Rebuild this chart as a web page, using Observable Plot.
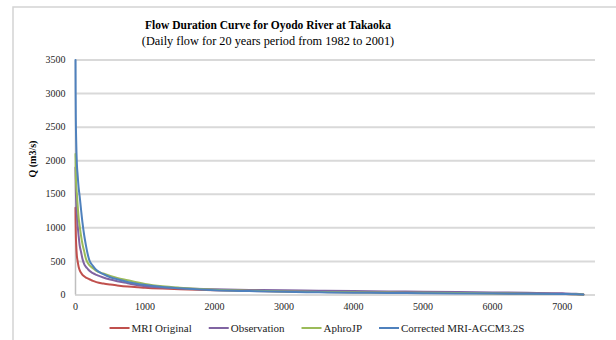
<!DOCTYPE html>
<html>
<head>
<meta charset="utf-8">
<script src="https://cdn.jsdelivr.net/npm/d3@7"></script>
<script src="https://cdn.jsdelivr.net/npm/@observablehq/plot@0.6"></script>
<style>
  html, body { margin: 0; padding: 0; background: #fff; }
  svg { display: block; }
  svg text, svg g { font-family: "Liberation Serif", "Times New Roman", serif !important; }
</style>
</head>
<body>
<script>
// Exceedance time (days) at which each series is sampled
const days = [0, 2, 5, 10, 20, 30, 45, 60, 80, 100, 125, 150, 175, 200, 250, 300, 400, 500, 600, 750, 900,
  1000, 1250, 1500, 2000, 2500, 3000, 3500, 4000, 4500, 5000, 5500, 6000, 6500, 7000, 7200, 7305];

// Daily discharge Q (m3/s), sorted from highest to lowest
const mriOriginal = [1300, 1100, 900, 750, 580, 510, 420, 370, 330, 300, 280, 260, 247, 235, 210, 192, 170, 155, 143, 127, 115,
  108, 95, 85, 70, 60, 53, 47, 42, 38, 34, 30, 26, 22, 17, 12, 6];
const observation = [1900, 1750, 1550, 1400, 1200, 1050, 880, 740, 640, 540, 460, 420, 390, 360, 325, 300, 260, 230, 205, 175, 145,
  130, 112, 100, 85, 76, 69, 63, 58, 53, 49, 44, 39, 33, 25, 18, 9];
const aphroJP = [2100, 2000, 1800, 1650, 1500, 1350, 1150, 1030, 880, 760, 650, 540, 480, 445, 400, 360, 320, 285, 255, 220, 185,
  165, 130, 108, 80, 65, 53, 46, 40, 36, 32, 28, 24, 20, 15, 11, 6];
const correctedMRI = [3500, 3000, 2600, 2300, 1950, 1800, 1600, 1470, 1270, 1080, 890, 740, 610, 515, 435, 372, 310, 265, 235, 195, 165,
  150, 120, 100, 72, 58, 47, 40, 35, 31, 27, 24, 21, 18, 14, 11, 6];

const seriesNames = ["MRI Original", "Observation", "AphroJP", "Corrected MRI-AGCM3.2S"];
const seriesValues = [mriOriginal, observation, aphroJP, correctedMRI];
const seriesColors = ["#C0504D", "#8064A2", "#9BBB59", "#4F81BD"];

const xTicks = [0, 1000, 2000, 3000, 4000, 5000, 6000, 7000];
const yTicks = [0, 500, 1000, 1500, 2000, 2500, 3000, 3500];

const titleText = "Flow Duration Curve for Oyodo River at Takaoka";
const subtitleText = "(Daily flow for 20 years period from 1982 to 2001)";
const yLabel = "Q (m3/s)";

const rows = seriesNames.flatMap((name, i) =>
  days.map((d, j) => ({series: name, day: d, q: seriesValues[i][j]}))
);

const serif = "Liberation Serif, Times New Roman, serif";
const plain = d3.format("d");

const svg = Plot.plot({
  width: 616,
  height: 340,
  marginLeft: 75,
  marginRight: 21,
  marginTop: 59.5,
  marginBottom: 45.5,
  style: {fontSize: "10px", color: "#262626", background: "#fff", fontFamily: serif},
  x: {domain: [0, 7480]},
  y: {domain: [0, 3500]},
  color: {domain: seriesNames, range: seriesColors},
  marks: [
    Plot.gridY(yTicks, {stroke: "#d9d9d9", strokeWidth: 2, strokeOpacity: 1}),
    Plot.ruleX([0], {stroke: "#bfbfbf", strokeWidth: 1.5}),
    Plot.axisX(xTicks, {tickSize: 0, tickPadding: 8, label: null, fontSize: 10, tickFormat: plain}),
    Plot.axisY(yTicks, {tickSize: 0, tickPadding: 10, label: null, fontSize: 10, tickFormat: plain}),
    Plot.line(rows, {
      x: "day", y: "q", z: "series", stroke: "series",
      strokeWidth: 2, curve: "monotone-x"
    }),
    Plot.text([yLabel], {
      frameAnchor: "left", dx: -43, rotate: -90,
      fontWeight: "bold", fontSize: 10, fill: "#000"
    })
  ]
});

document.body.append(svg);
const root = d3.select(svg);
root.attr("font-family", serif);
root.selectAll("[font-family]").attr("font-family", serif);

// Chart area border
root.insert("rect", ":first-child")
  .attr("x", 13).attr("y", 7)
  .attr("width", 640).attr("height", 360)
  .attr("fill", "none").attr("stroke", "#d4d4d4").attr("stroke-width", 1.5);

// Title and subtitle
const cx = 268;
root.append("text")
  .attr("x", cx).attr("y", 29)
  .attr("text-anchor", "middle")
  .attr("font-size", 11.5).attr("font-weight", "bold")
  .attr("fill", "#000")
  .text(titleText);
root.append("text")
  .attr("x", cx).attr("y", 45)
  .attr("text-anchor", "middle")
  .attr("font-size", 12.3)
  .attr("fill", "#000")
  .text(subtitleText);

// Legend along the bottom, laid out from measured label widths
const legend = root.append("g")
  .attr("font-size", 11).attr("fill", "#222").attr("text-anchor", "start");
const swatch = 20, pad = 2, gap = 17;
let lx = 0;
seriesNames.forEach((name, i) => {
  const g = legend.append("g").attr("transform", `translate(${lx},0)`);
  g.append("line")
    .attr("x1", 0).attr("x2", swatch).attr("y1", 0).attr("y2", 0)
    .attr("stroke", seriesColors[i]).attr("stroke-width", 2);
  const t = g.append("text").attr("x", swatch + pad).attr("dy", "0.35em").text(name);
  lx += swatch + pad + t.node().getComputedTextLength() + gap;
});
const legendWidth = lx - gap;
legend.attr("transform", `translate(${317 - legendWidth / 2},328)`);
</script>
</body>
</html>
